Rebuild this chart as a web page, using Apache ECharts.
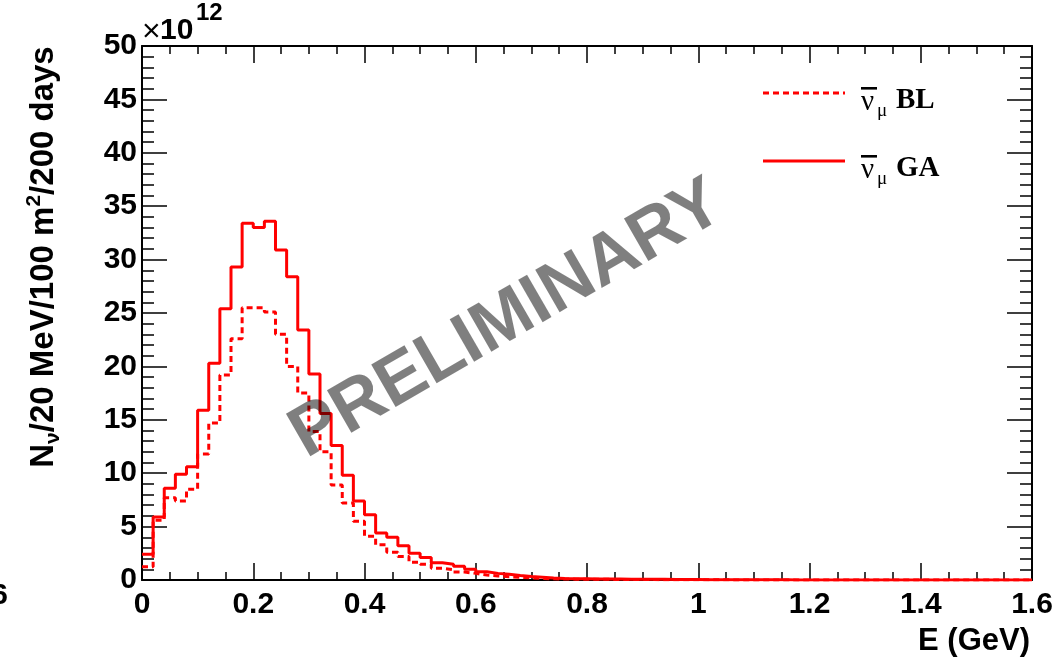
<!DOCTYPE html>
<html>
<head>
<meta charset="utf-8">
<script src="https://cdn.jsdelivr.net/npm/echarts@6/dist/echarts.min.js"></script>
<style>
html,body{margin:0;padding:0;background:#fff;}
#chart{width:1062px;height:662px;}
</style>
</head>
<body>
<div id="chart"></div>
<script>
// Histogram bins: 20 MeV wide from 0 to 1.6 GeV (values in units of 1e12)
const binWidth = 0.02;
const xMin = 0, xMax = 1.6;
const xTicks = [0, 0.2, 0.4, 0.6, 0.8, 1, 1.2, 1.4, 1.6];
const yTicks = [0, 5, 10, 15, 20, 25, 30, 35, 40, 45, 50];
const seriesNames = ['BL', 'GA'];

const valuesGA = [
  2.4, 5.9, 8.6, 9.9, 10.6, 15.9, 20.3, 25.4, 29.3, 33.4,
  33.0, 33.6, 30.9, 28.4, 23.4, 19.3, 15.6, 12.6, 9.8, 7.4,
  6.1, 4.4, 4.0, 3.2, 2.5, 2.1, 1.62, 1.47, 1.28, 1.0,
  0.78, 0.62, 0.53, 0.42, 0.32, 0.25, 0.18, 0.14, 0.12, 0.11,
  0.10, 0.10, 0.10, 0.08, 0.07, 0.07, 0.06, 0.05, 0.04, 0.04,
  0.03, 0.03, 0.03, 0.02, 0.02, 0.02, 0.02, 0.02, 0.01, 0.01,
  0.01, 0.01, 0.01, 0.01, 0.01, 0.01, 0.01, 0.01, 0.01, 0.01,
  0.01, 0.01, 0.0, 0.0, 0.0, 0.0, 0.0, 0.0, 0.0, 0.0
];
const valuesBL = [
  1.25, 5.6, 7.7, 7.4, 8.5, 11.8, 14.7, 19.2, 22.6, 25.5,
  25.5, 25.1, 23.0, 20.0, 17.5, 13.9, 12.0, 8.9, 7.2, 5.5,
  4.1, 3.3, 2.6, 2.2, 1.66, 1.47, 1.1, 0.96, 0.74, 0.62,
  0.47, 0.38, 0.31, 0.25, 0.19, 0.14, 0.11, 0.09, 0.08, 0.07,
  0.06, 0.06, 0.05, 0.05, 0.04, 0.04, 0.03, 0.03, 0.02, 0.02,
  0.02, 0.02, 0.01, 0.01, 0.01, 0.01, 0.01, 0.01, 0.01, 0.01,
  0.01, 0.01, 0.0, 0.0, 0.0, 0.0, 0.0, 0.0, 0.0, 0.0,
  0.0, 0.0, 0.0, 0.0, 0.0, 0.0, 0.0, 0.0, 0.0, 0.0
];

function histPoints(vals) {
  const pts = vals.map((v, i) => [xMin + i * binWidth, v]);
  pts.push([xMin + vals.length * binWidth, vals[vals.length - 1]]);
  return pts;
}

const chart = echarts.init(document.getElementById('chart'), null, {renderer: 'canvas'});
const SANS = 'Liberation Sans, Arial, sans-serif';
const SERIF = 'Liberation Serif, Times New Roman, serif';
const labelFont = {fontFamily: SANS, fontWeight: 'bold', fontSize: 30, color: '#000'};
const axisLineStyle = {color: '#000', width: 2};
const tickStyle = {color: '#000', width: 1.5};
const RED = '#ff0000';
const DASH = [6, 4];

function xAxisCfg(pos, showLabel) {
  return {
    type: 'value', position: pos, min: xMin, max: xMax, interval: 0.2,
    axisLine: {show: true, onZero: false, lineStyle: axisLineStyle},
    axisTick: {show: true, inside: true, length: 17, lineStyle: tickStyle},
    minorTick: {show: true, splitNumber: 4, length: 8, lineStyle: tickStyle},
    splitLine: {show: false}, minorSplitLine: {show: false},
    axisLabel: showLabel ? Object.assign({show: true, margin: 10,
      formatter: v => String(parseFloat(v.toFixed(1)))}, labelFont) : {show: false}
  };
}
function yAxisCfg(pos, showLabel) {
  return {
    type: 'value', position: pos, min: yTicks[0], max: yTicks[yTicks.length - 1], interval: 5,
    axisLine: {show: true, onZero: false, lineStyle: axisLineStyle},
    axisTick: {show: true, inside: true, length: 25, lineStyle: tickStyle},
    minorTick: {show: true, splitNumber: 5, length: 12, lineStyle: tickStyle},
    splitLine: {show: false}, minorSplitLine: {show: false},
    axisLabel: showLabel ? Object.assign({show: true, margin: 5}, labelFont) : {show: false}
  };
}

function legendEntry(name, lineY, dashed) {
  return [
    {type: 'line', z: 10, shape: {x1: 763, y1: lineY, x2: 845, y2: lineY},
      style: {stroke: RED, lineWidth: 3, lineDash: dashed ? DASH : null}},
    {type: 'text', x: 861, y: lineY + 9, z: 10,
      style: {x: 0, y: 0, align: 'left', verticalAlign: 'middle', text: '\u03BD',
        fontFamily: SERIF, fontSize: 29, fill: '#000'}},
    {type: 'rect', z: 10, shape: {x: 861, y: lineY - 6, width: 16, height: 2.6},
      style: {fill: '#000'}},
    {type: 'text', x: 877, y: lineY + 18, z: 10,
      style: {x: 0, y: 0, align: 'left', verticalAlign: 'middle', text: '\u03BC',
        fontFamily: SERIF, fontSize: 19, fill: '#000'}},
    {type: 'text', x: 896, y: lineY + 8, z: 10,
      style: {x: 0, y: 0, align: 'left', verticalAlign: 'middle', text: name,
        fontFamily: SERIF, fontWeight: 'bold', fontSize: 29, fill: '#000'}}
  ];
}

const option = {
  animation: false,
  backgroundColor: '#fff',
  grid: {left: 142, right: 30, top: 46, bottom: 82, containLabel: false},
  xAxis: [xAxisCfg('bottom', true), xAxisCfg('top', false)],
  yAxis: [yAxisCfg('left', true), yAxisCfg('right', false)],
  series: [
    {
      name: seriesNames[0], type: 'line', step: 'end', xAxisIndex: 0, yAxisIndex: 0,
      showSymbol: false, symbol: 'none', clip: true,
      lineStyle: {color: RED, width: 3, type: DASH},
      itemStyle: {color: RED},
      data: histPoints(valuesBL)
    },
    {
      name: seriesNames[1], type: 'line', step: 'end', xAxisIndex: 0, yAxisIndex: 0,
      showSymbol: false, symbol: 'none', clip: true,
      lineStyle: {color: RED, width: 3, type: 'solid'},
      itemStyle: {color: RED},
      data: histPoints(valuesGA)
    }
  ],
  graphic: [].concat(
    legendEntry(seriesNames[0], 93, true),
    legendEntry(seriesNames[1], 161, false),
    [
    {
      type: 'text', x: 44, y: 257, rotation: Math.PI / 2, z: 10,
      style: {
        x: 0, y: 0, align: 'center', verticalAlign: 'middle',
        text: '{b|N}{sub|\u03BD}{b|/20 MeV/100 m}{sup|2}{b|/200 days}',
        rich: {
          b: {fontFamily: SANS, fontWeight: 'bold', fontSize: 33, color: '#000', lineHeight: 40},
          sub: {fontFamily: SANS, fontWeight: 'bold', fontSize: 21, color: '#000', verticalAlign: 'bottom', padding: [16, 0, 0, 0]},
          sup: {fontFamily: SANS, fontWeight: 'bold', fontSize: 21, color: '#000', verticalAlign: 'top', padding: [0, 0, 14, 0]}
        }
      }
    },
    {
      type: 'text', x: 1030, y: 641, z: 10,
      style: {x: 0, y: 0, align: 'right', verticalAlign: 'middle', text: 'E (GeV)',
        fontFamily: SANS, fontWeight: 'bold', fontSize: 31, fill: '#000'}
    },
    {
      type: 'text', x: 142, y: 32, z: 10,
      style: {x: 0, y: 0, align: 'left', verticalAlign: 'middle', text: '\u00D7',
        fontFamily: SANS, fontWeight: 'normal', fontSize: 32, fill: '#000'}
    },
    {
      type: 'text', x: 160, y: 31, z: 10,
      style: {x: 0, y: 0, align: 'left', verticalAlign: 'middle', text: '10',
        fontFamily: SANS, fontWeight: 'bold', fontSize: 30, fill: '#000'}
    },
    {
      type: 'text', x: 196, y: 13, z: 10,
      style: {x: 0, y: 0, align: 'left', verticalAlign: 'middle', text: '12',
        fontFamily: SANS, fontWeight: 'bold', fontSize: 24, fill: '#000'}
    },
    {
      type: 'text', x: 8, y: 596, z: 10,
      style: {x: 0, y: 0, align: 'right', verticalAlign: 'middle', text: '6',
        fontFamily: SANS, fontWeight: 'bold', fontSize: 30, fill: '#000'}
    },
    {
      type: 'text', x: 507, y: 320, rotation: 30 * Math.PI / 180, z: 100,
      style: {x: 0, y: 0, align: 'center', verticalAlign: 'middle', text: 'PRELIMINARY',
        fontFamily: SANS, fontWeight: 'bold', fontSize: 71,
        fill: 'rgba(0,0,0,0.5)'}
    }
    ]
  )
};
chart.setOption(option);
</script>
</body>
</html>
